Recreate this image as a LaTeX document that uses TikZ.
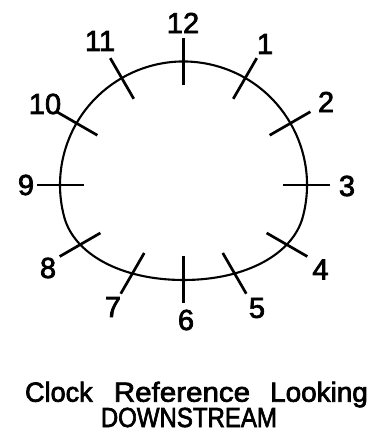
\documentclass[tikz,border=0pt]{standalone}
\usepackage{fontspec}
\setmainfont{Liberation Sans}
\newfontfamily\lblfont{Liberation Sans}[FakeBold=2.5]
\usetikzlibrary{calc}
\begin{document}
\begin{tikzpicture}[x=1pt,y=1pt,
  outline/.style={line width=2.1pt},
  tickmark/.style={line width=2.7pt},
  num/.style={font=\lblfont\fontsize{29}{29}\selectfont, inner sep=0pt},
  captext/.style={font=\lblfont\fontsize{27.6}{27.6}\selectfont, inner sep=0pt, anchor=base}]
\useasboundingbox (-183.5,-253) rectangle (192.5,185);
% outline of the pipe
\draw[outline] (-15:123.5) arc[start angle=-15,end angle=195,radius=123.5]
  .. controls (-109.5,-68.7) and (-63,-95) .. (0,-95)
  .. controls (63,-95) and (109.5,-68.7) .. (-15:123.5) -- cycle;
% tick marks
\foreach \k/\r in {0/123.5,1/123.5,2/123.5,3/123.5,4/120,5/102.5,6/95,7/102.5,8/120,9/123.5,10/123.5,11/123.5}{
  \pgfmathsetmacro\ang{90-30*\k}
  \coordinate (p\k) at (\ang:\r);
  \draw[tickmark] ($(p\k)+(\ang:23)$) -- ($(p\k)+(\ang+180:24)$);
}
% clock numbers
\node[num] (l12) at (-0.5,162) {12};
\node[num] (l1) at (81.5,141) {1};
\node[num] (l2) at (142.5,83) {2};
\node[num] (l3) at (163.5,-1) {3};
\node[num] (l4) at (137,-84.5) {4};
\node[num] (l5) at (73.5,-123) {5};
\node[num] (l6) at (2.5,-135) {6};
\node[num] (l7) at (-70.5,-122) {7};
\node[num] (l8) at (-135.5,-83) {8};
\node[num] (l9) at (-157.5,0) {9};
\node[num] (l10) at (-138.5,81) {10};
\node[num] (l11) at (-83.5,144) {11};
% caption
\node[captext, xscale=0.98] (w1) at (-124.6,-216.7) {Clock};
\node[captext, xscale=1.07] (w2) at (-1.5,-216.7) {Reference};
\node[captext, xscale=1.01] (w3) at (135.5,-216.7) {Looking};
\node[captext, xscale=0.87] (w4) at (5.4,-242) {DOWNSTREAM};
\end{tikzpicture}
\end{document}
